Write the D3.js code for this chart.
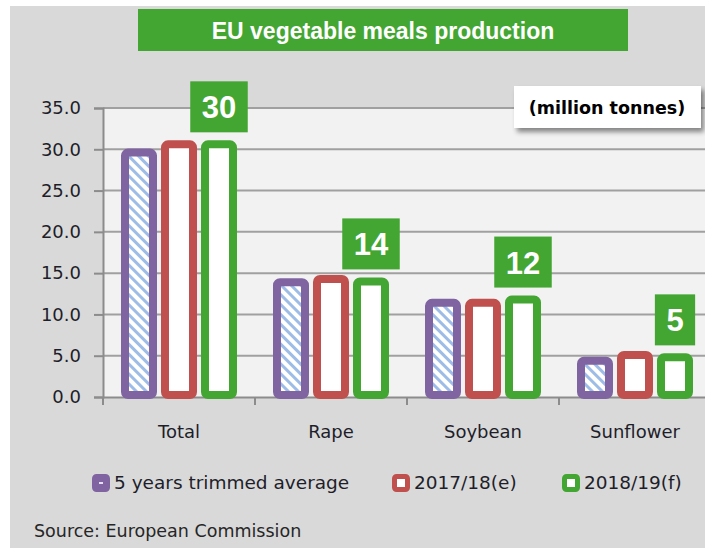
<!DOCTYPE html>
<html>
<head>
<meta charset="utf-8">
<script src="https://cdn.jsdelivr.net/npm/d3@7"></script>
<style>
  body { margin: 0; background: #fff; }
  svg { display: block; }
</style>
</head>
<body>
<div id="chart"></div>
<script>
const categories = ['Total', 'Rape', 'Soybean', 'Sunflower'];
const seriesNames = ['5 years trimmed average', '2017/18(e)', '2018/19(f)'];
const avgValues = [29.6, 13.9, 11.4, 4.4];
const e2017Values = [30.6, 14.3, 11.4, 5.1];
const f2018Values = [30.6, 14.0, 11.8, 4.8];
const boxLabels = ['30', '14', '12', '5'];
const yTicks = [0, 5, 10, 15, 20, 25, 30, 35];

const width = 705;
const height = 548;
const margin = { top: 108, left: 103, bottom: 397 };
const colors = ['#8064a2', '#c0504d', '#44a632'];
const green = '#44a632';

const seriesValues = [avgValues, e2017Values, f2018Values];
const data = categories.map((c, i) => ({
  cat: c,
  vals: seriesValues.map((s, j) => ({ key: seriesNames[j], idx: j, v: s[i] })),
}));

const svg = d3.select('#chart').append('svg').attr('width', width).attr('height', height);

const defs = svg.append('defs');
const pat = defs.append('pattern')
  .attr('id', 'hatch')
  .attr('patternUnits', 'userSpaceOnUse')
  .attr('width', 7).attr('height', 7)
  .attr('patternTransform', 'rotate(-45)');
pat.append('rect').attr('width', 7).attr('height', 7).attr('fill', '#fff');
pat.append('rect').attr('width', 3).attr('height', 7).attr('fill', '#9dbce6');

const shadow = defs.append('filter').attr('id', 'shadow')
  .attr('x', '-10%').attr('y', '-20%').attr('width', '130%').attr('height', '160%');
shadow.append('feDropShadow')
  .attr('dx', 3).attr('dy', 4).attr('stdDeviation', 2.5)
  .attr('flood-color', '#000').attr('flood-opacity', 0.45);

// background
svg.append('rect').attr('x', 10).attr('y', 6).attr('width', width - 10).attr('height', height - 6)
  .attr('fill', '#d9d9d9');

const x0 = d3.scaleBand().domain(categories).range([margin.left, 711]);
const groupW = 120;
const x1 = d3.scaleBand().domain(seriesNames).range([0, groupW]);
const y = d3.scaleLinear().domain([0, 35]).range([margin.bottom, margin.top]);

// plot area
svg.append('rect')
  .attr('x', margin.left).attr('y', margin.top)
  .attr('width', width - margin.left).attr('height', margin.bottom - margin.top)
  .attr('fill', '#f2f2f2');

// gridlines
svg.append('g')
  .selectAll('line')
  .data(yTicks.slice(1))
  .join('line')
  .attr('x1', margin.left).attr('x2', width)
  .attr('y1', (d) => y(d)).attr('y2', (d) => y(d))
  .attr('stroke', '#a0a0a0').attr('stroke-width', 2);

// y axis
const yAxis = svg.append('g')
  .attr('transform', `translate(${margin.left},0)`)
  .call(d3.axisLeft(y).tickValues(yTicks).tickFormat(d3.format('.1f')).tickSize(9).tickPadding(13));
yAxis.select('.domain').attr('stroke', '#8c8c8c').attr('stroke-width', 2);
yAxis.selectAll('.tick line').attr('stroke', '#8c8c8c').attr('stroke-width', 2);
yAxis.selectAll('text')
  .attr('font-family', 'DejaVu Sans').attr('font-size', 18).attr('fill', '#1e1e2a');

// x axis
const xAxis = svg.append('g')
  .attr('transform', `translate(0,${margin.bottom})`)
  .call(d3.axisBottom(x0).tickSize(0).tickPadding(28));
xAxis.select('.domain').attr('stroke', '#8c8c8c').attr('stroke-width', 2);
xAxis.selectAll('text')
  .attr('font-family', 'DejaVu Sans').attr('font-size', 18).attr('fill', '#1e1e2a');
svg.append('g')
  .selectAll('line')
  .data(categories)
  .join('line')
  .attr('x1', (d) => x0(d)).attr('x2', (d) => x0(d))
  .attr('y1', margin.bottom).attr('y2', margin.bottom + 8)
  .attr('stroke', '#8c8c8c').attr('stroke-width', 2);

// bars
const stroke = 8;
const off = (x0.bandwidth() - groupW) / 2;
const group = svg.append('g')
  .selectAll('g')
  .data(data)
  .join('g')
  .attr('transform', (d) => `translate(${x0(d.cat) + off},0)`);

group.selectAll('rect')
  .data((d) => d.vals)
  .join('rect')
  .attr('x', (d) => x1(d.key) + 6)
  .attr('width', x1.bandwidth() - 12)
  .attr('y', (d) => y(d.v))
  .attr('height', (d) => y(0) - y(d.v) - 2)
  .attr('rx', 3)
  .attr('fill', (d) => (d.idx === 0 ? 'url(#hatch)' : '#fff'))
  .attr('stroke', (d) => colors[d.idx])
  .attr('stroke-width', stroke);

// green value boxes
data.forEach((d, i) => {
  const cx = x0(d.cat) + off + x1(seriesNames[2]) + x1.bandwidth() / 2;
  const bottom = y(d.vals[2].v) - 12;
  const g = svg.append('g');
  const r = g.append('rect').attr('fill', green);
  const t = g.append('text')
    .attr('x', cx).attr('y', bottom - 14)
    .attr('text-anchor', 'middle')
    .attr('font-family', 'Liberation Sans').attr('font-weight', 'bold').attr('font-size', 31)
    .attr('fill', '#fff')
    .text(boxLabels[i]);
  const w = t.node().getComputedTextLength() + 23;
  r.attr('x', cx - w / 2).attr('y', bottom - 51).attr('width', w).attr('height', 51);
});

// title
svg.append('rect').attr('x', 138).attr('y', 9).attr('width', 490).attr('height', 42).attr('fill', green);
svg.append('text')
  .attr('x', 383).attr('y', 39)
  .attr('text-anchor', 'middle')
  .attr('font-family', 'Liberation Sans').attr('font-weight', 'bold').attr('font-size', 23)
  .attr('fill', '#fff')
  .text('EU vegetable meals production');

// units box
svg.append('rect').attr('x', 514).attr('y', 86).attr('width', 187).attr('height', 42)
  .attr('fill', '#fff').attr('filter', 'url(#shadow)');
svg.append('text')
  .attr('x', 607).attr('y', 114)
  .attr('text-anchor', 'middle')
  .attr('font-family', 'DejaVu Sans').attr('font-weight', 'bold').attr('font-size', 17.5)
  .attr('fill', '#000')
  .text('(million tonnes)');

// legend
const legendX = [92, 392, 562];
const legend = svg.append('g')
  .selectAll('g')
  .data(seriesNames)
  .join('g')
  .attr('transform', (d, i) => `translate(${legendX[i]},474)`);
legend.append('rect')
  .attr('x', 2.5).attr('y', 2.5).attr('width', 13).attr('height', 13).attr('rx', 2)
  .attr('fill', '#fff')
  .attr('stroke', (d, i) => colors[i]).attr('stroke-width', 5);
legend.filter((d, i) => i === 0).select('rect').attr('fill', '#8064a2');
legend.filter((d, i) => i === 0).append('rect')
  .attr('x', 7).attr('y', 8).attr('width', 4).attr('height', 2).attr('fill', '#e6e0f0');
legend.append('text')
  .attr('x', 22).attr('y', 15)
  .attr('font-family', 'DejaVu Sans').attr('font-size', 18.5).attr('fill', '#1e1e2a')
  .text((d) => d);

// source
svg.append('text')
  .attr('x', 34).attr('y', 537)
  .attr('font-family', 'DejaVu Sans').attr('font-size', 17.5).attr('fill', '#262626')
  .text('Source: European Commission');
</script>
</body>
</html>
